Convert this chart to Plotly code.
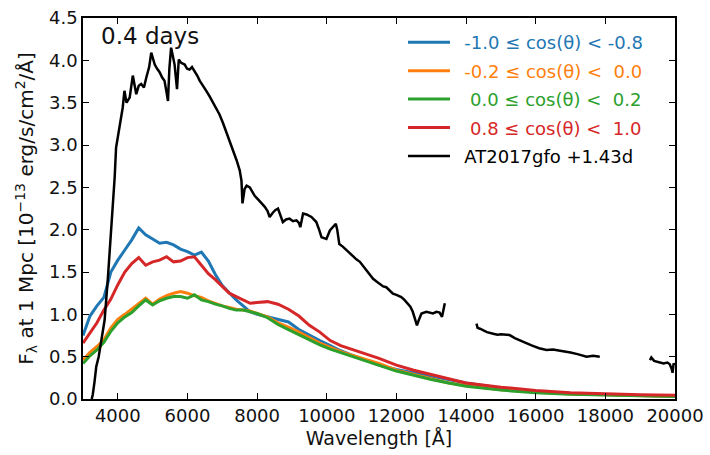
import plotly.graph_objects as go

# ---------------- data ----------------
wl_model = [3000, 3200, 3400, 3600, 3800, 4000, 4200, 4400, 4600, 4800, 5000, 5200, 5400,
            5600, 5800, 6000, 6200, 6400, 6600, 6800, 7000, 7200, 7400, 7600, 7800, 8000,
            8300, 8600, 8900, 9200, 9500, 9800, 10100, 10400, 10700, 11000, 11500, 12000,
            12500, 13000, 13500, 14000, 15000, 16000, 17000, 18000, 19000, 20000]

flux_blue = [0.75, 0.98, 1.10, 1.20, 1.50, 1.64, 1.76, 1.88, 2.02, 1.94, 1.89, 1.84, 1.85,
             1.82, 1.77, 1.74, 1.70, 1.735, 1.63, 1.47, 1.34, 1.25, 1.17, 1.10, 1.03, 1.00,
             0.97, 0.94, 0.91, 0.82, 0.75, 0.69, 0.63, 0.57, 0.52, 0.475, 0.40, 0.35,
             0.31, 0.27, 0.23, 0.19, 0.13, 0.09, 0.065, 0.05, 0.04, 0.035]

flux_orange = [0.46, 0.55, 0.62, 0.70, 0.84, 0.94, 1.00, 1.06, 1.13, 1.19, 1.12, 1.18, 1.22,
               1.25, 1.27, 1.25, 1.22, 1.20, 1.16, 1.13, 1.10, 1.08, 1.06, 1.05, 1.04, 1.01,
               0.97, 0.90, 0.85, 0.79, 0.72, 0.66, 0.61, 0.56, 0.52, 0.48, 0.42, 0.34,
               0.29, 0.24, 0.19, 0.16, 0.11, 0.08, 0.06, 0.05, 0.04, 0.03]

flux_green = [0.42, 0.51, 0.58, 0.67, 0.80, 0.90, 0.97, 1.02, 1.10, 1.17, 1.11, 1.16, 1.19,
              1.21, 1.21, 1.19, 1.23, 1.17, 1.15, 1.12, 1.10, 1.07, 1.05, 1.05, 1.03, 1.01,
              0.96, 0.88, 0.82, 0.76, 0.70, 0.64, 0.59, 0.55, 0.51, 0.47, 0.40, 0.33,
              0.28, 0.23, 0.19, 0.15, 0.105, 0.075, 0.055, 0.045, 0.035, 0.03]

flux_red = [0.66, 0.78, 0.90, 1.05, 1.18, 1.35, 1.50, 1.60, 1.67, 1.58, 1.62, 1.64, 1.68,
            1.62, 1.63, 1.67, 1.68, 1.58, 1.48, 1.41, 1.33, 1.25, 1.21, 1.17, 1.13, 1.14,
            1.15, 1.12, 1.06, 0.98, 0.87, 0.79, 0.69, 0.63, 0.59, 0.55, 0.48, 0.40,
            0.34, 0.29, 0.24, 0.19, 0.14, 0.10, 0.075, 0.06, 0.05, 0.045]

# AT2017gfo +1.43d observed spectrum (three segments, gaps = telluric bands)
wl_obs_1 = [3250, 3280, 3330, 3380, 3450, 3520, 3620, 3710, 3810, 3860, 3910, 3950, 4050,
            4140, 4190, 4250, 4340, 4430, 4530, 4600, 4670, 4750, 4820, 4900, 4960, 5060,
            5130, 5200, 5270, 5340, 5400, 5440, 5480, 5530, 5580, 5630, 5700, 5750, 5820,
            5920, 5990, 6060, 6130, 6200, 6280, 6350, 6450, 6540, 6640, 6730, 6830, 6920,
            7020, 7120, 7210, 7310, 7410, 7500, 7550, 7580, 7640, 7700, 7790, 7860, 7930,
            8020, 8120, 8220, 8300, 8360, 8450, 8520, 8600, 8670, 8740, 8830, 8930, 9030,
            9130, 9200, 9240, 9320, 9420, 9560, 9630, 9700, 9780, 9850, 9920, 9990, 10090,
            10180, 10260, 10300, 10360, 10460, 10570, 10660, 10750, 10850, 10950, 11040,
            11140, 11240, 11330, 11420, 11520, 11620, 11710, 11800, 11900, 12000, 12140,
            12230, 12330, 12400, 12470, 12530, 12590, 12650, 12720, 12860, 12950, 13050,
            13150, 13240, 13310, 13360, 13390]
flux_obs_1 = [0.00, 0.05, 0.20, 0.38, 0.50, 0.66, 0.93, 1.40, 1.99, 2.40, 2.62, 2.97, 3.21,
              3.44, 3.64, 3.50, 3.56, 3.82, 3.60, 3.70, 3.72, 3.68, 3.80, 3.92, 4.09, 3.95,
              3.90, 3.86, 3.80, 3.76, 3.62, 3.52, 3.90, 4.15, 4.05, 3.95, 3.66, 4.01, 3.97,
              3.95, 3.90, 3.89, 3.92, 3.875, 3.82, 3.76, 3.70, 3.64, 3.57, 3.50, 3.44, 3.36,
              3.26, 3.15, 3.05, 2.93, 2.82, 2.70, 2.58, 2.31, 2.48, 2.52, 2.50, 2.45, 2.40,
              2.36, 2.32, 2.27, 2.22, 2.15, 2.20, 2.23, 2.25, 2.18, 2.09, 2.12, 2.13, 2.10,
              2.11, 2.08, 2.03, 2.19, 2.18, 2.15, 2.12, 2.09, 2.00, 1.91, 1.90, 1.89, 1.99,
              2.04, 2.07, 2.00, 1.83, 1.80, 1.755, 1.72, 1.68, 1.65, 1.62, 1.57,
              1.52, 1.47, 1.42, 1.39, 1.36, 1.33, 1.32, 1.28, 1.245, 1.23, 1.205,
              1.17, 1.13, 1.09, 1.03, 0.95, 0.87, 0.94, 1.01, 1.03, 1.02, 1.01,
              1.03, 1.02, 0.97, 1.05, 1.13]

wl_obs_2 = [14300, 14330, 14400, 14500, 14600, 14780, 14900, 15000, 15100, 15250, 15400,
            15550, 15730, 15900, 16100, 16310, 16500, 16700, 16880, 17000, 17200, 17460,
            17650, 17840]
flux_obs_2 = [0.89, 0.84, 0.83, 0.81, 0.79, 0.77, 0.76, 0.765, 0.76, 0.755, 0.72,
              0.69, 0.66, 0.63, 0.60, 0.58, 0.585, 0.57, 0.56, 0.55, 0.53, 0.50,
              0.51, 0.50]

wl_obs_3 = [19280, 19320, 19400, 19480, 19560, 19670, 19780, 19850, 19900, 19930, 19960, 20000]
flux_obs_3 = [0.46, 0.49, 0.45, 0.44, 0.43, 0.42, 0.43, 0.41, 0.36, 0.31, 0.42, 0.40]

series_names = ["-1.0 \u2264 cos(\u03b8) < -0.8",
                "-0.2 \u2264 cos(\u03b8) <  0.0",
                " 0.0 \u2264 cos(\u03b8) <  0.2",
                " 0.8 \u2264 cos(\u03b8) <  1.0",
                "AT2017gfo +1.43d"]
series_colors = ["#1f77b4", "#ff7f0e", "#2ca02c", "#d62728", "#000000"]

x_ticks = [4000, 6000, 8000, 10000, 12000, 14000, 16000, 18000, 20000]
y_ticks = [0.0, 0.5, 1.0, 1.5, 2.0, 2.5, 3.0, 3.5, 4.0, 4.5]

# ---------------- figure ----------------
FONT = "DejaVu Sans"
fig = go.Figure()

def label(name, color):
    # a small gap between the legend line and its text, as in the reference
    return "<span style='color:%s'>\u00a0\u2009%s</span>" % (color, name.replace(" ", "\u00a0"))

for i, (flux, name, color) in enumerate(zip([flux_blue, flux_orange, flux_green, flux_red],
                                            series_names[:4], series_colors[:4])):
    fig.add_trace(go.Scatter(x=wl_model, y=flux, mode="lines", name=label(name, color),
                             legendgroup="g%d" % i,
                             line=dict(color=color, width=3)))

wl_obs = wl_obs_1 + [None] + wl_obs_2 + [None] + wl_obs_3
flux_obs = flux_obs_1 + [None] + flux_obs_2 + [None] + flux_obs_3
fig.add_trace(go.Scatter(x=wl_obs, y=flux_obs, mode="lines", connectgaps=False,
                         name=label(series_names[4], series_colors[4]),
                         legendgroup="g4",
                         line=dict(color="black", width=2.5)))

fig.add_annotation(text="0.4 days", xref="paper", yref="paper", x=0.027, y=0.953,
                   xanchor="left", yanchor="middle", showarrow=False,
                   font=dict(family=FONT, size=23, color="#111111"))

axis_common = dict(showgrid=False, zeroline=False, showline=True, linecolor="black",
                   linewidth=1.5, mirror="ticks", ticks="inside", ticklen=6,
                   tickwidth=1.2, tickcolor="black",
                   tickfont=dict(family=FONT, size=18, color="#111111"))

fig.update_xaxes(range=[3000, 20000], tickvals=x_ticks,
                 ticktext=[str(v) for v in x_ticks],
                 title=dict(text="Wavelength [\u00c5]", standoff=6,
                            font=dict(family=FONT, size=19, color="#111111")),
                 **axis_common)
fig.update_yaxes(range=[0, 4.5], tickvals=y_ticks,
                 ticktext=["%.1f" % v for v in y_ticks],
                 title=dict(text="F<sub>\u03bb</sub> at 1 Mpc [10<sup>\u221213</sup> erg/s/cm<sup>2</sup>/\u00c5]",
                            standoff=10,
                            font=dict(family=FONT, size=20, color="#111111")),
                 **axis_common)

fig.update_layout(
    width=710, height=455,
    margin=dict(l=83, r=35, t=18, b=56, autoexpand=False),
    paper_bgcolor="white", plot_bgcolor="white",
    font=dict(family=FONT, size=18, color="#111111"),
    legend=dict(x=0.5405, y=0.984, xanchor="left", yanchor="top",
                bgcolor="rgba(0,0,0,0)", borderwidth=0, itemwidth=42,
                tracegroupgap=2, traceorder="grouped",
                font=dict(family=FONT, size=18)),
    showlegend=True,
)

fig.write_html("out.html")
